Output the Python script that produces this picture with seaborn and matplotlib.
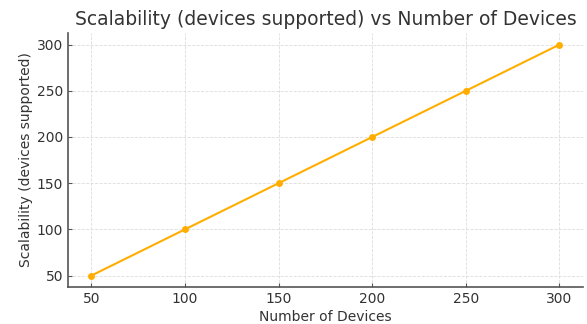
import pandas as pd
import seaborn as sns
import matplotlib.pyplot as plt

# data
num_devices = [50, 100, 150, 200, 250, 300]
scalability = [50, 100, 150, 200, 250, 300]

df = pd.DataFrame({"Number of Devices": num_devices,
                   "Scalability (devices supported)": scalability})

sns.set_style("ticks")
plt.rcParams['font.family'] = ['DejaVu Sans']
plt.rcParams['text.color'] = '#333333'
plt.rcParams['axes.labelcolor'] = '#333333'
plt.rcParams['xtick.color'] = '#555555'
plt.rcParams['ytick.color'] = '#555555'
plt.rcParams['xtick.labelcolor'] = '#333333'
plt.rcParams['ytick.labelcolor'] = '#333333'

fig = plt.figure(figsize=(5.87, 3.24), dpi=100)
ax = fig.add_axes([0.116, 0.114, 0.877, 0.784])

sns.lineplot(data=df, x="Number of Devices", y="Scalability (devices supported)",
             color="#FFAE00", marker="o", markersize=5, markeredgewidth=0,
             linewidth=1.5, ax=ax)

ax.set_xticks(num_devices)
ax.set_yticks([50, 100, 150, 200, 250, 300])
ax.grid(True, linestyle="--", linewidth=0.6, color="#dddddd")
ax.set_axisbelow(True)
for s in ["top", "right"]:
    ax.spines[s].set_visible(False)
for s in ["left", "bottom"]:
    ax.spines[s].set_color("#555555")
    ax.spines[s].set_linewidth(1.2)
ax.tick_params(labelsize=10, length=3, direction="in", pad=3.5)
ax.set_xlabel("Number of Devices", fontsize=10, labelpad=3)
ax.set_ylabel("Scalability (devices supported)", fontsize=10, labelpad=3)
ax.set_title("Scalability (devices supported) vs Number of Devices", fontsize=13.5)

plt.savefig("out.png", dpi=100)
